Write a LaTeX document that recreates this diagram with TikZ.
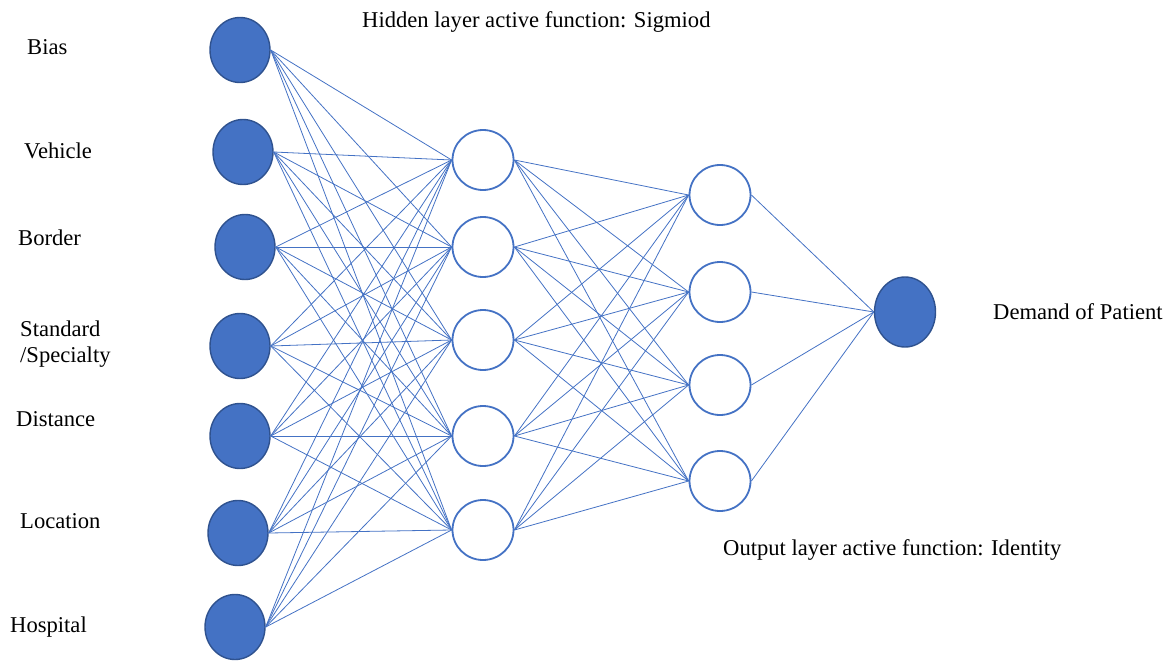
\documentclass[tikz,border=0pt]{standalone}
\usepackage{fontspec}
\setmainfont{Liberation Serif}
\usetikzlibrary{shapes.geometric}
\definecolor{nnblue}{HTML}{4472C4}
\definecolor{nndark}{HTML}{2F528F}
\begin{document}
\begin{tikzpicture}[x=1pt,y=-1pt,
  font=\fontsize{22.6}{26}\selectfont,
  inp/.style={ellipse,draw=nndark,fill=nnblue,line width=1.4pt,
    minimum width=60pt,minimum height=65pt,inner sep=0pt},
  hid/.style={ellipse,draw=nnblue,fill=white,line width=1.8pt,
    minimum width=61pt,minimum height=60pt,inner sep=0pt},
  outp/.style={inp,minimum width=61pt,minimum height=70pt},
  lbl/.style={anchor=west,align=left,inner sep=0pt},
  conn/.style={draw=nnblue,line width=0.8pt}]
\useasboundingbox (0,0) rectangle (1172,661);
% input layer
\foreach \n/\x/\y in {1/240/50,2/243/152,3/245/247,4/240/346,5/240/436,6/238/533,7/235/627}
  \node[inp] (i\n) at (\x,\y) {};
% hidden layers
\foreach \n/\y in {1/160,2/247,3/340,4/436,5/530}
  \node[hid] (h\n) at (483,\y) {};
\foreach \n/\y in {1/195,2/292,3/385,4/481}
  \node[hid] (g\n) at (720,\y) {};
\node[outp] (o) at (905,312) {};
% connections
\foreach \a in {1,...,7}
  \foreach \b in {1,...,5}
    \draw[conn] (i\a.east) -- (h\b.west);
\foreach \a in {1,...,5}
  \foreach \b in {1,...,4}
    \draw[conn] (h\a.east) -- (g\b.west);
\foreach \a in {1,...,4}
  \draw[conn] (g\a.east) -- (o.west);
% labels
\node[lbl] (lbias) at (27,47) {Bias};
\node[lbl] (lveh) at (24,151) {Vehicle};
\node[lbl] (lbor) at (18,238) {Border};
\node[lbl] (lstd) at (20,344) {Standard\\/Specialty};
\node[lbl] (ldis) at (16,419) {Distance};
\node[lbl] (lloc) at (20,521) {Location};
\node[lbl] (lhos) at (10,627) {Hospital};
\node[lbl] (lout) at (993,312) {Demand of Patient};
\node[lbl] (thid) at (362,22) {Hidden layer active function: Sigmiod};
\node[lbl] (tout) at (723,550) {Output layer active function: Identity};
\end{tikzpicture}
\end{document}
